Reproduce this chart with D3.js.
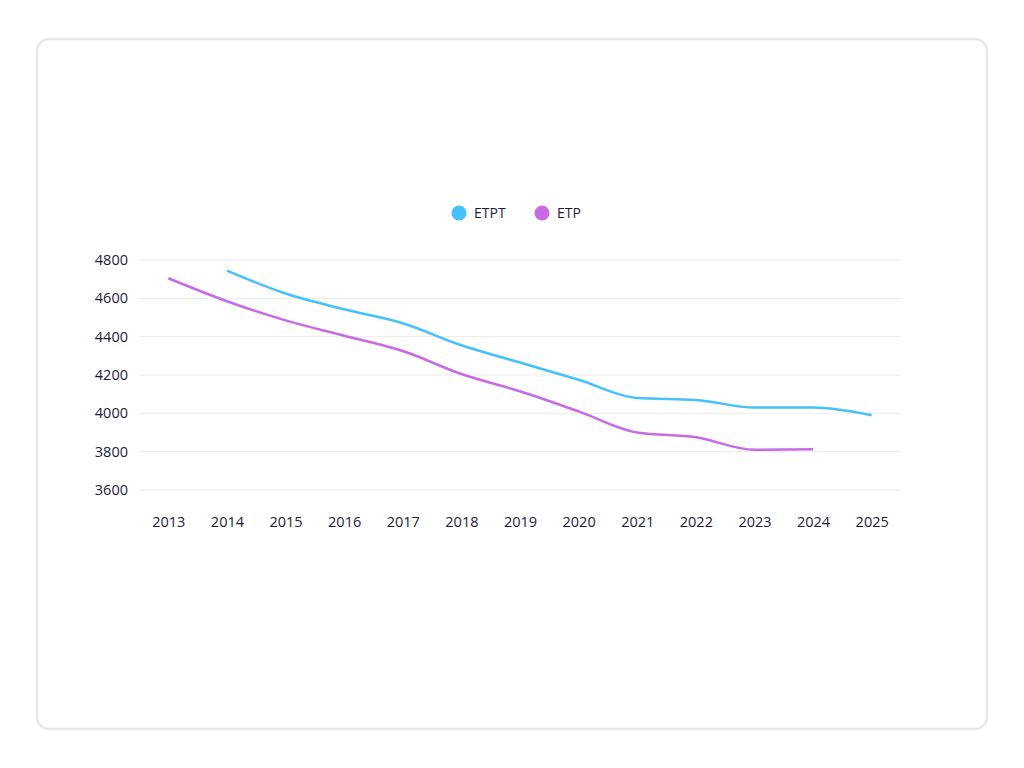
<!DOCTYPE html>
<html>
<head>
<meta charset="utf-8">
<script src="https://cdn.jsdelivr.net/npm/d3@7"></script>
<style>
  body { margin: 0; background: #fff; }
  text { font-family: "Open Sans", "Noto Sans", sans-serif; fill: #1d1b3a; }
</style>
</head>
<body>
<svg width="1024" height="768"></svg>
<script>
var years = ["2013", "2014", "2015", "2016", "2017", "2018", "2019", "2020", "2021", "2022", "2023", "2024", "2025"];
var etpt = [null, 4745, 4625, 4543, 4470, 4355, 4265, 4175, 4080, 4070, 4030, 4030, 3990];
var etp = [4705, 4585, 4485, 4405, 4325, 4205, 4115, 4010, 3900, 3875, 3810, 3812, null];
var yTicks = [3600, 3800, 4000, 4200, 4400, 4600, 4800];

var series = [
  { name: "ETPT", color: "#45c1fb", values: etpt },
  { name: "ETP", color: "#c86ae6", values: etp }
];

var svg = d3.select("svg");

// card
svg.append("rect")
    .attr("x", 37).attr("y", 39)
    .attr("width", 950).attr("height", 690)
    .attr("rx", 12)
    .attr("fill", "#fff")
    .attr("stroke", "#e8e8e8")
    .attr("stroke-width", 2.5);

var x = d3.scalePoint().domain(years).range([139, 901]).padding(0.5),
    y = d3.scaleLinear().domain([3600, 4800]).range([490, 260]);

// grid
svg.append("g").selectAll("line").data(yTicks).enter().append("line")
    .attr("x1", 139).attr("x2", 901)
    .attr("y1", function (d) { return y(d); })
    .attr("y2", function (d) { return y(d); })
    .attr("stroke", "#ebebeb")
    .attr("stroke-width", 1);

var yAxis = svg.append("g")
    .attr("transform", "translate(139,0)")
    .call(d3.axisLeft(y).tickValues(yTicks).tickFormat(d3.format("d")).tickSize(0).tickPadding(11));
yAxis.select(".domain").remove();
yAxis.selectAll("text").attr("font-size", 14.5).style("font-family", null).attr("fill", null);

var xAxis = svg.append("g")
    .attr("transform", "translate(0,512)")
    .call(d3.axisBottom(x).tickSize(0).tickPadding(5));
xAxis.select(".domain").remove();
xAxis.selectAll("text").attr("font-size", 14.5).style("font-family", null).attr("fill", null);

var line = d3.line()
    .defined(function (d) { return d != null; })
    .x(function (d, i) { return x(years[i]); })
    .y(function (d) { return y(d); })
    .curve(d3.curveMonotoneX);

svg.append("g").selectAll("path").data(series).enter().append("path")
    .attr("fill", "none")
    .attr("stroke", function (d) { return d.color; })
    .attr("stroke-width", 2.5)
    .attr("d", function (d) { return line(d.values); });

// legend
var legend = svg.append("g").selectAll("g").data(series).enter().append("g")
    .attr("transform", function (d, i) { return "translate(" + (459 + i * 83) + ",213)"; });
legend.append("circle").attr("r", 7.5).attr("fill", function (d) { return d.color; });
legend.append("text")
    .attr("x", 15).attr("dy", "0.35em")
    .attr("font-size", 14)
    .text(function (d) { return d.name; });
</script>
</body>
</html>
